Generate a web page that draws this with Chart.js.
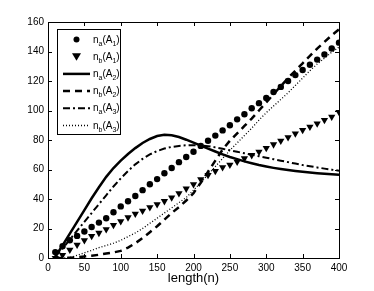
<!DOCTYPE html>
<html>
<head>
<meta charset="utf-8">
<script src="https://cdn.jsdelivr.net/npm/chart.js@4"></script>
<style>
    body { margin: 0; background: #fff; }
</style>
</head>
<body>
<canvas id="lenChart" width="374" height="291"></canvas>
<script>
const lengths = [10, 20, 30, 40, 50, 60, 70, 80, 90, 100, 110, 120, 130, 140, 150, 160, 170, 180, 190, 200,
    210, 220, 230, 240, 250, 260, 270, 280, 290, 300, 310, 320, 330, 340, 350, 360, 370, 380, 390, 400];

const naA1 = [4, 8, 12, 15, 18, 21, 24, 27, 31, 35, 38.5, 42, 46, 50, 53.5, 57.5, 61, 65, 68.5, 72,
    76, 79.5, 83, 86.5, 90, 94, 97.5, 101.5, 105, 108.5, 112.5, 116, 120, 124, 127.5, 131, 134.5, 138, 142, 146];
const nbA1 = [0, 2, 5.5, 9, 12, 14.8, 17, 19.5, 22.3, 24.8, 27.5, 30, 32, 34.3, 36.4, 38.5, 41, 43.8, 47, 50,
    53.3, 56.2, 59, 61.5, 63.2, 65.2, 67.5, 69.7, 72, 74.5, 77, 79.5, 81.8, 84.3, 86.7, 89, 91.2, 93.5, 95.7, 99];
const naA2 = [1, 8.5, 16.5, 24.5, 32.5, 40.5, 48, 55, 61, 66, 70.5, 74.5, 78, 80.7, 82.7, 83.5, 83.2, 82, 80.2, 78.2,
    76.2, 74.2, 72.2, 70.3, 68.5, 67, 65.5, 64.2, 63, 62, 61.1, 60.3, 59.6, 59, 58.4, 57.9, 57.5, 57.1, 56.7, 56.4];
const nbA2 = [0, 0, 0.2, 0.5, 1, 1.5, 2.2, 3, 3.8, 4.8, 7, 10, 13.5, 17.5, 21.5, 26, 30.5, 34.5, 39, 44,
    51, 58.5, 66, 73.5, 79.5, 84.5, 89.5, 94.5, 100, 105.5, 111, 116.5, 122, 127, 132, 137, 142, 146.5, 151, 155];
const naA3 = [1, 6.5, 12.5, 18.5, 24.5, 30.5, 36.5, 42.5, 48.5, 54, 59, 63.5, 67.2, 70.2, 72.5, 74.2, 75.3, 76, 76.4, 76.5,
    76.3, 75.8, 75, 74, 73, 72, 71, 70, 69, 68, 67, 66, 65, 64, 63, 62.2, 61.4, 60.6, 59.9, 59.2];
const nbA3 = [0, 0, 0.3, 1.8, 3.5, 5.2, 7, 8.5, 10, 12, 14.5, 17, 20, 23.5, 27, 30.5, 34, 37.5, 41, 46,
    51, 56.5, 62, 67.5, 73, 78, 83, 88, 93.5, 98.5, 103, 107.5, 112, 117, 122, 127, 131.5, 135.5, 139.5, 143];

const xTicks = [0, 50, 100, 150, 200, 250, 300, 350, 400];
const yTicks = [0, 20, 40, 60, 80, 100, 120, 140, 160];

// legend names: [base, subscript, base, subscript, base]
const legendNames = [
    ["n", "a", "(A", "1", ")"],
    ["n", "b", "(A", "1", ")"],
    ["n", "a", "(A", "2", ")"],
    ["n", "b", "(A", "2", ")"],
    ["n", "a", "(A", "3", ")"],
    ["n", "b", "(A", "3", ")"]
];

const FONT = "'Liberation Sans', Arial, sans-serif";

function pts(ys) {
    return lengths.map((x, i) => ({ x: x, y: ys[i] }));
}

// MATLAB style box with inward ticks on all sides
const boxAxes = {
    id: "boxAxes",
    afterDraw(chart) {
        const c = chart.ctx;
        const a = chart.chartArea;
        const xs = chart.scales.x;
        const ys = chart.scales.y;
        c.save();
        c.strokeStyle = "#000";
        c.lineWidth = 1;
        c.beginPath();
        xTicks.forEach(v => {
            const px = Math.round(xs.getPixelForValue(v)) + 0.5;
            c.moveTo(px, a.bottom); c.lineTo(px, a.bottom - 4);
            c.moveTo(px, a.top); c.lineTo(px, a.top + 4);
        });
        yTicks.forEach(v => {
            const py = Math.round(ys.getPixelForValue(v)) + 0.5;
            c.moveTo(a.left, py); c.lineTo(a.left + 4, py);
            c.moveTo(a.right, py); c.lineTo(a.right - 4, py);
        });
        c.stroke();
        c.strokeRect(Math.round(a.left) + 0.5, Math.round(a.top) + 0.5,
            Math.round(a.right - a.left), Math.round(a.bottom - a.top));
        c.restore();
    }
};

// legend box with subscripts
const subLegend = {
    id: "subLegend",
    afterDraw(chart) {
        const c = chart.ctx;
        const bx = 57.5, by = 29.5, bw = 63, bh = 105;
        c.save();
        c.fillStyle = "#fff";
        c.fillRect(bx, by, bw, bh);
        c.strokeStyle = "#000";
        c.lineWidth = 1;
        c.strokeRect(bx, by, bw, bh);
        chart.data.datasets.forEach((ds, i) => {
            const cy = 39.5 + i * 17.2;
            c.strokeStyle = "#000";
            c.fillStyle = "#000";
            if (ds.showLine === false) {
                c.beginPath();
                if (ds.pointStyle === "circle") {
                    c.arc(76.5, cy, 3, 0, Math.PI * 2);
                } else {
                    c.moveTo(72, cy - 3.5); c.lineTo(81, cy - 3.5); c.lineTo(76.5, cy + 4);
                    c.closePath();
                }
                c.fill();
            } else {
                c.lineWidth = ds.borderWidth;
                c.setLineDash(ds.borderDash || []);
                c.beginPath();
                c.moveTo(63, cy); c.lineTo(90, cy);
                c.stroke();
                c.setLineDash([]);
            }
            let x = 93;
            const parts = legendNames[i];
            c.textBaseline = "alphabetic";
            parts.forEach((p, k) => {
                const sub = k % 2 === 1;
                c.font = (sub ? "7px " : "10px ") + FONT;
                c.fillText(p, x, cy + (sub ? 6 : 3));
                x += c.measureText(p).width;
            });
        });
        c.restore();
    }
};

const markerSet = (label, ys, style, r, rot) => ({
    label: label,
    data: pts(ys),
    showLine: false,
    pointStyle: style,
    pointRadius: r,
    pointRotation: rot,
    backgroundColor: "#000",
    borderColor: "#000",
    borderWidth: 0
});

const lineSet = (label, ys, width, dash) => ({
    label: label,
    data: pts(ys),
    showLine: true,
    borderColor: "#000",
    borderWidth: width,
    borderDash: dash,
    pointRadius: 0,
    tension: 0,
    fill: false
});

const ctx = document.getElementById("lenChart").getContext("2d");

const lenChart = new Chart(ctx, {
    type: "scatter",
    data: {
        datasets: [
            markerSet("na(A1)", naA1, "circle", 3.2, 0),
            markerSet("nb(A1)", nbA1, "triangle", 4.2, 180),
            lineSet("na(A2)", naA2, 2.5, []),
            lineSet("nb(A2)", nbA2, 2.5, [7, 5]),
            lineSet("na(A3)", naA3, 2, [7, 3, 2, 3]),
            lineSet("nb(A3)", nbA3, 1.3, [1, 2])
        ]
    },
    options: {
        responsive: false,
        animation: false,
        layout: { padding: { left: 0, top: 22, right: 35, bottom: 0 } },
        plugins: {
            legend: { display: false },
            tooltip: { enabled: false }
        },
        scales: {
            x: {
                type: "linear",
                min: 0,
                max: 400,
                afterBuildTicks: s => { s.ticks = xTicks.map(v => ({ value: v })); },
                afterFit: s => { s.height = 33; },
                grid: { display: false, drawTicks: false },
                border: { display: false },
                ticks: { color: "#000", padding: 4, maxRotation: 0, font: { family: FONT, size: 10 } },
                title: {
                    display: true,
                    text: "length(n)",
                    color: "#000",
                    padding: { top: 0, bottom: 5 },
                    font: { family: FONT, size: 13 }
                }
            },
            y: {
                type: "linear",
                min: 0,
                max: 160,
                afterBuildTicks: s => { s.ticks = yTicks.map(v => ({ value: v })); },
                afterFit: s => { s.width = 48; },
                grid: { display: false, drawTicks: false },
                border: { display: false },
                ticks: { color: "#000", padding: 4, font: { family: FONT, size: 10 } }
            }
        }
    },
    plugins: [boxAxes, subLegend]
});
</script>
</body>
</html>
